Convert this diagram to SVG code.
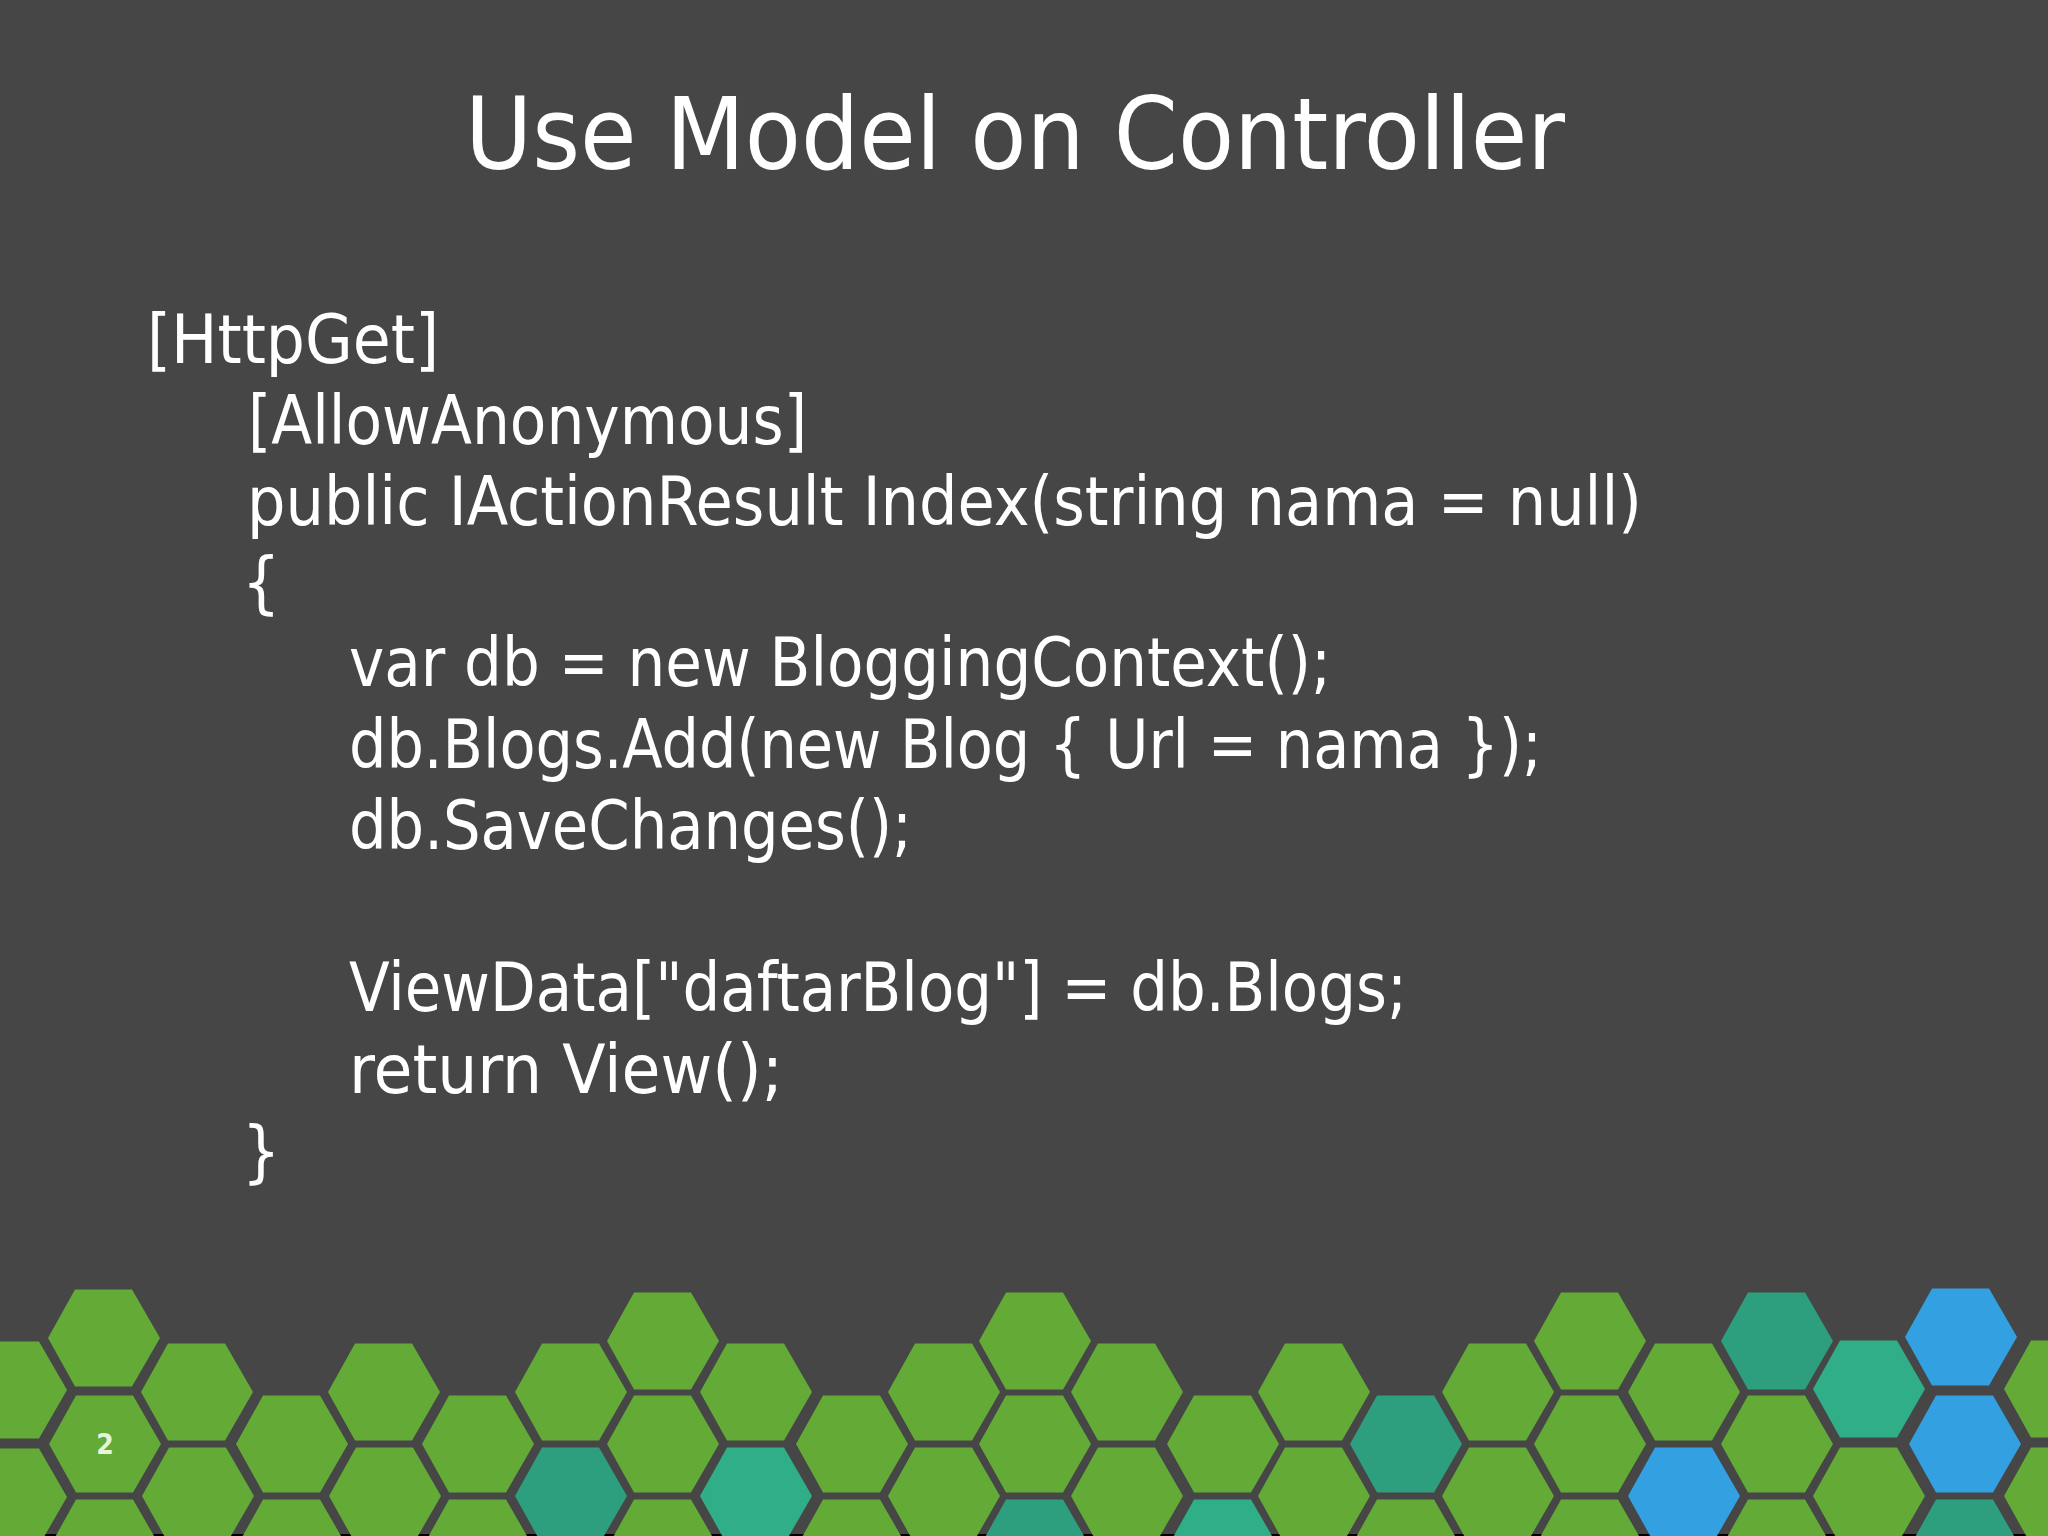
<svg xmlns="http://www.w3.org/2000/svg" width="2048" height="1536" viewBox="0 0 2048 1536">
<style>
text{fill:#fff;font-family:"DejaVu Sans Condensed","DejaVu Sans",sans-serif}
.c{font-size:67px}
.t{font-size:100px}
.g{fill:#63AA36}.d{fill:#2E9F7E}.b{fill:#30AE87}.u{fill:#33A0E2}
</style>
<defs><polygon id="h" points="-29,-48.5 28,-48.5 56,0 28,48.5 -29,48.5 -56,0"/></defs>
<rect width="2048" height="1536" fill="#464646"/>
<rect y="1534" width="2048" height="2" fill="#000"/>
<g id="hexagons">
<use href="#h" class="g" x="11" y="1390"/><use href="#h" class="g" x="11" y="1497"/>
<use href="#h" class="g" x="104" y="1338"/><use href="#h" class="g" x="105" y="1444"/><use href="#h" class="g" x="105" y="1548"/>
<use href="#h" class="g" x="197" y="1392"/><use href="#h" class="g" x="198" y="1496"/>
<use href="#h" class="g" x="292" y="1444"/><use href="#h" class="g" x="292" y="1548"/>
<use href="#h" class="g" x="384" y="1392"/><use href="#h" class="g" x="385" y="1496"/>
<use href="#h" class="g" x="478" y="1444"/><use href="#h" class="g" x="478" y="1548"/>
<use href="#h" class="g" x="571" y="1392"/><use href="#h" class="d" x="571" y="1496"/>
<use href="#h" class="g" x="663" y="1341"/><use href="#h" class="g" x="663" y="1444"/><use href="#h" class="g" x="663" y="1548"/>
<use href="#h" class="g" x="756" y="1392"/><use href="#h" class="b" x="756" y="1496"/>
<use href="#h" class="g" x="852" y="1444"/><use href="#h" class="g" x="852" y="1548"/>
<use href="#h" class="g" x="944" y="1392"/><use href="#h" class="g" x="944" y="1496"/>
<use href="#h" class="g" x="1035" y="1341"/><use href="#h" class="g" x="1035" y="1444"/><use href="#h" class="d" x="1035" y="1548"/>
<use href="#h" class="g" x="1127" y="1392"/><use href="#h" class="g" x="1127" y="1496"/>
<use href="#h" class="g" x="1223" y="1444"/><use href="#h" class="b" x="1223" y="1548"/>
<use href="#h" class="g" x="1314" y="1392"/><use href="#h" class="g" x="1314" y="1496"/>
<use href="#h" class="d" x="1406" y="1444"/><use href="#h" class="g" x="1406" y="1548"/>
<use href="#h" class="g" x="1498" y="1392"/><use href="#h" class="g" x="1498" y="1496"/>
<use href="#h" class="g" x="1590" y="1341"/><use href="#h" class="g" x="1590" y="1444"/><use href="#h" class="g" x="1590" y="1548"/>
<use href="#h" class="g" x="1684" y="1392"/><use href="#h" class="u" x="1684" y="1496"/>
<use href="#h" class="d" x="1777" y="1341"/><use href="#h" class="g" x="1777" y="1444"/><use href="#h" class="g" x="1777" y="1548"/>
<use href="#h" class="b" x="1869" y="1389"/><use href="#h" class="g" x="1869" y="1496"/>
<use href="#h" class="u" x="1961" y="1337"/><use href="#h" class="u" x="1965" y="1444"/><use href="#h" class="d" x="1965" y="1548"/>
<use href="#h" class="g" x="2060" y="1389"/><use href="#h" class="g" x="2060" y="1496"/>
</g>
<text x="465" y="169" class="t" textLength="1100" lengthAdjust="spacingAndGlyphs">Use Model on Controller</text>
<g id="code">
<text x="147" y="363" class="c" textLength="292" lengthAdjust="spacingAndGlyphs">[HttpGet]</text>
<text x="248" y="444" class="c" textLength="559" lengthAdjust="spacingAndGlyphs">[AllowAnonymous]</text>
<text x="247" y="525" class="c" textLength="1395" lengthAdjust="spacingAndGlyphs">public IActionResult Index(string nama = null)</text>
<text x="242" y="606" class="c">{</text>
<text x="349" y="686" class="c" textLength="982" lengthAdjust="spacingAndGlyphs">var db = new BloggingContext();</text>
<text x="349" y="768" class="c" textLength="1193" lengthAdjust="spacingAndGlyphs">db.Blogs.Add(new Blog { Url = nama });</text>
<text x="349" y="849" class="c" textLength="563" lengthAdjust="spacingAndGlyphs">db.SaveChanges();</text>
<text x="349" y="1011" class="c" textLength="1058" lengthAdjust="spacingAndGlyphs">ViewData["daftarBlog"] = db.Blogs;</text>
<text x="349" y="1093" class="c" textLength="434" lengthAdjust="spacingAndGlyphs">return View();</text>
<text x="242" y="1175" class="c">}</text>
</g>
<text x="105" y="1454" font-size="28" font-weight="bold" text-anchor="middle" style="fill:#E6F5D8">2</text>
</svg>
